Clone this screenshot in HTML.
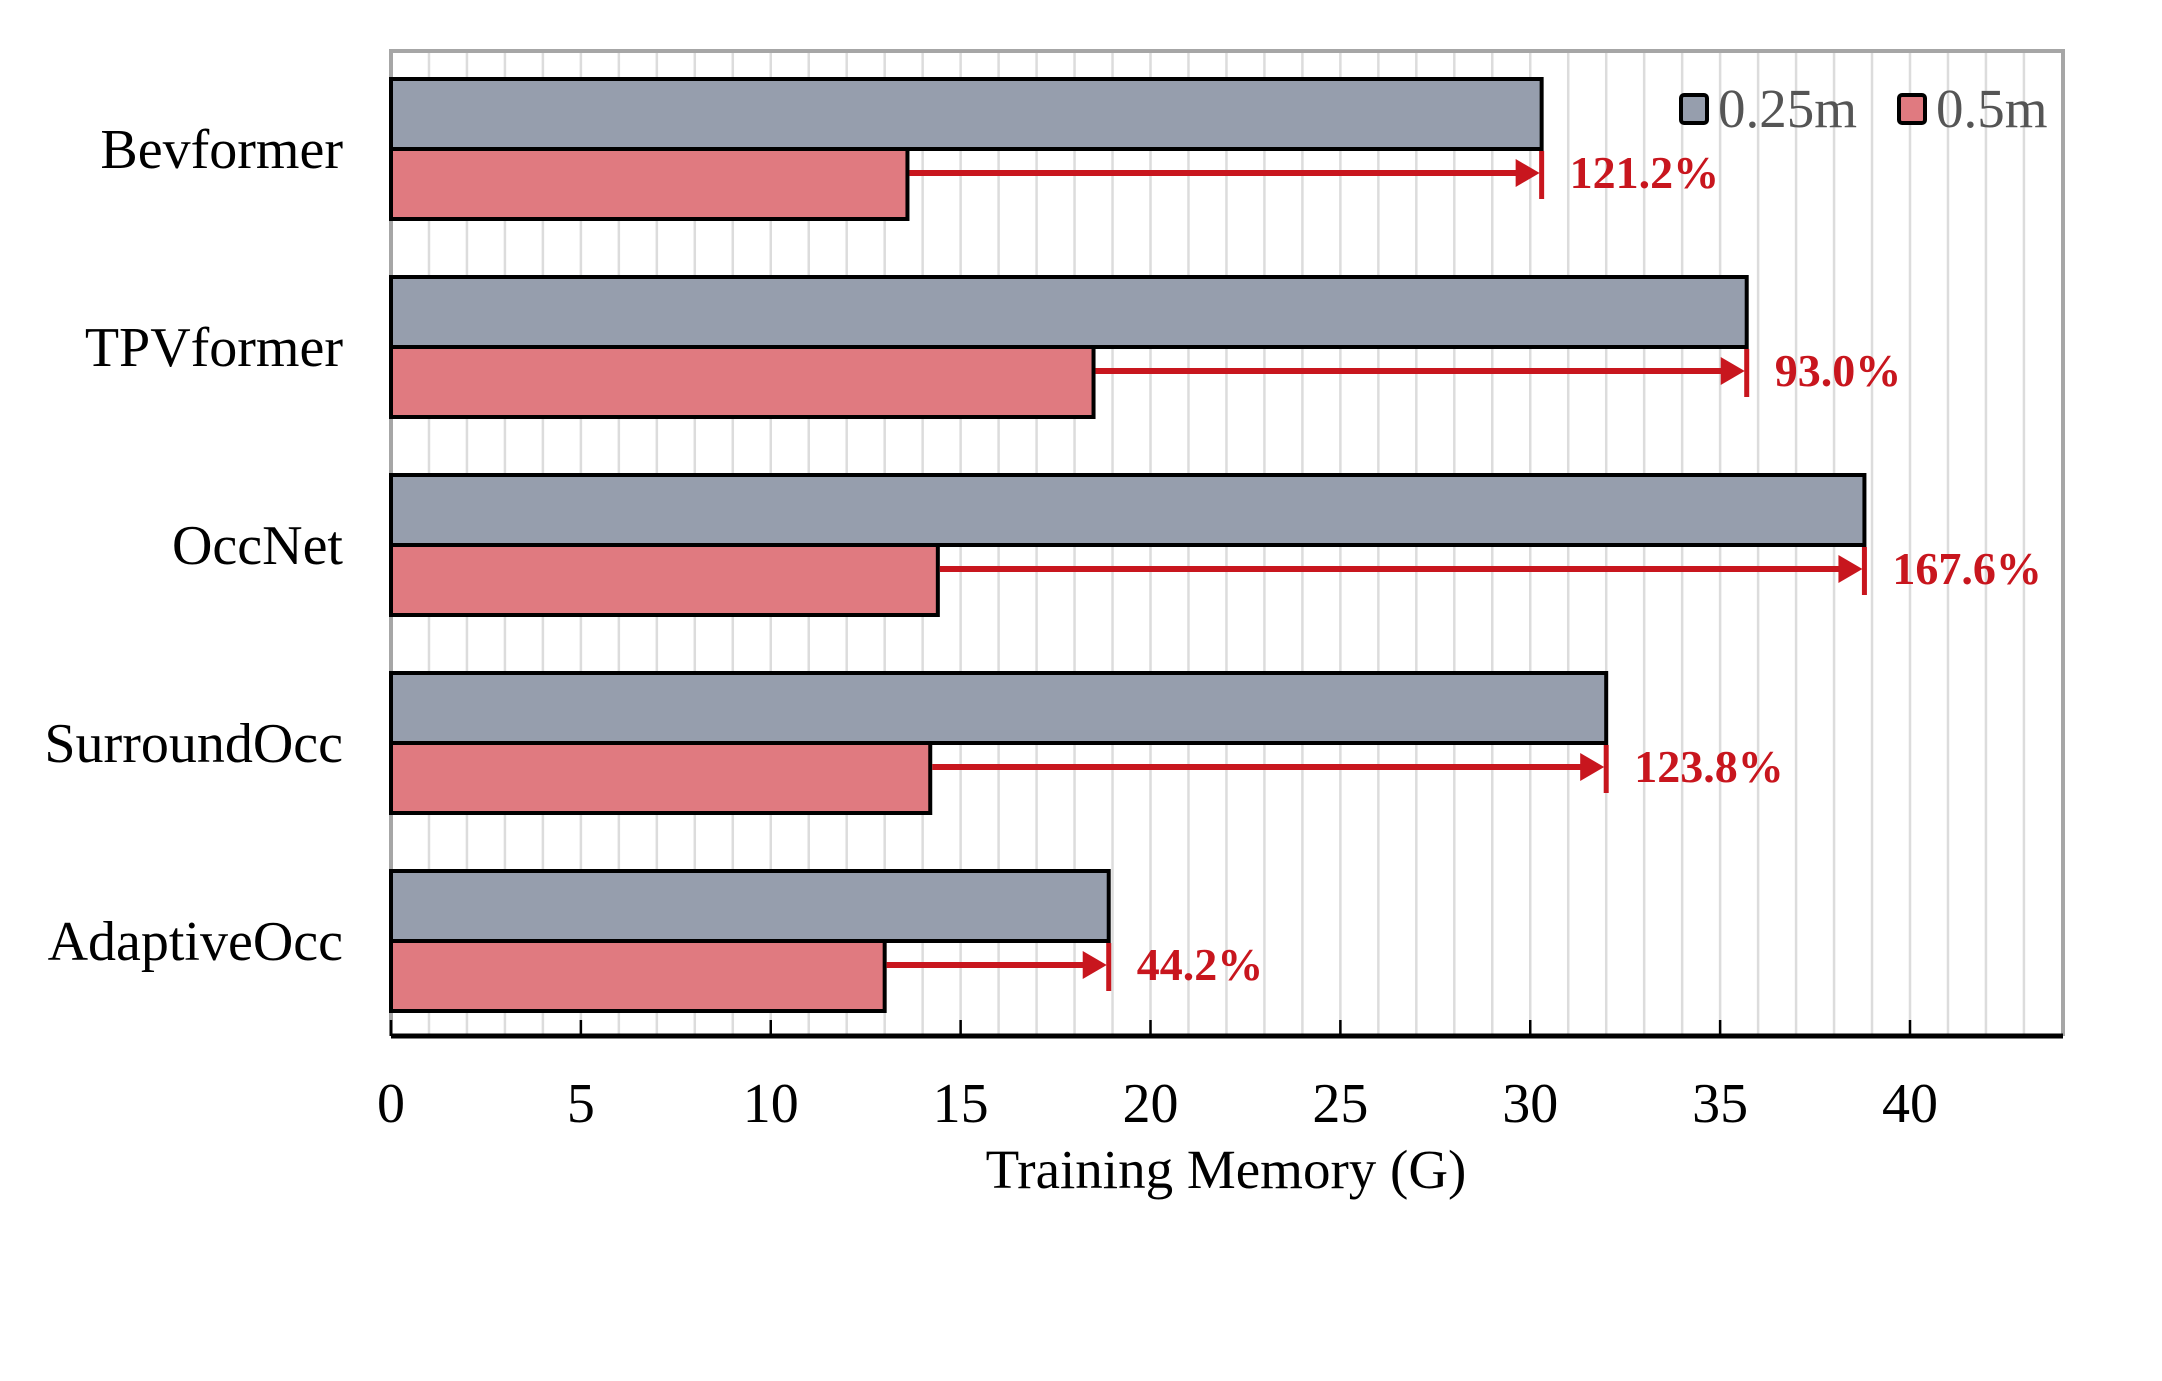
<!DOCTYPE html>
<html><head><meta charset="utf-8"><style>
html,body{margin:0;padding:0;background:#fff;}
svg{display:block;font-family:"Liberation Serif",serif;}
</style></head><body>
<svg id="chart" width="2162" height="1381" viewBox="0 0 2162 1381" xmlns="http://www.w3.org/2000/svg"></svg>
<script>
const categories = ["Bevformer","TPVformer","OccNet","SurroundOcc","AdaptiveOcc"];
const mem025 = [30.3, 35.7, 38.8, 32.0, 18.9];
const mem05 = [13.6, 18.5, 14.4, 14.2, 13.0];
const pctLabels = ["121.2%","93.0%","167.6%","123.8%","44.2%"];
const xTicks = [0,5,10,15,20,25,30,35,40];

const NS = "http://www.w3.org/2000/svg";
const svg = document.getElementById('chart');
const L = 391, R = 2063, T = 51, B = 1036;
const unit = (1910 - 391) / 40;
const x = v => L + v * unit;
const groupTop = i => 79 + i * 198;
const barH = 70;
function mk(tag, attrs, parent) {
  const e = document.createElementNS(NS, tag);
  for (const k in attrs) e.setAttribute(k, attrs[k]);
  (parent || svg).appendChild(e);
  return e;
}
for (let v = 1; x(v) < R - 2; v++) {
  const g = mk('line', {x1: x(v), x2: x(v), y1: T, y2: B, stroke: '#dcdcdc', 'stroke-width': 2.5});
  
  
}
const fr = mk('path', {d: `M${L},${B} L${L},${T} L${R},${T} L${R},${B}`, fill: 'none', stroke: '#a6a6a6', 'stroke-width': 4});


categories.forEach((c, i) => {
  const top = groupTop(i);
  const b1 = mk('rect', {x: L, y: top, width: x(mem025[i]) - L, height: barH, fill: '#969ead', stroke: '#000', 'stroke-width': 4});
  
  
  const b2 = mk('rect', {x: L, y: top + barH, width: x(mem05[i]) - L, height: barH, fill: '#e07a80', stroke: '#000', 'stroke-width': 4});
  
  
  const lbl = mk('text', {x: 343, y: top + barH + 19, 'text-anchor': 'end', 'font-size': 56, fill: '#000'});
  lbl.textContent = c;
  
  
  const ay = top + barH + 24;
  const x0 = x(mem05[i]) + 2, x1 = x(mem025[i]);
  const ln = mk('line', {x1: x0, x2: x1 - 22, y1: ay, y2: ay, stroke: '#c8161e', 'stroke-width': 6});
  
  
  const hd = mk('polygon', {points: `${x1-2},${ay} ${x1-26},${ay-14} ${x1-26},${ay+14}`, fill: '#c8161e'});
  
  
  const tk = mk('line', {x1: x1, x2: x1, y1: top + barH + 2, y2: top + barH + 50, stroke: '#c8161e', 'stroke-width': 5});
  
  
  const pt = mk('text', {x: x1 + 28, y: ay + 15, 'font-size': 46, 'font-weight': 'bold', fill: '#c8161e'});
  pt.textContent = pctLabels[i];
  
  
});
const ax = mk('line', {x1: L, x2: R, y1: B, y2: B, stroke: '#000', 'stroke-width': 5});


xTicks.forEach(v => {
  const t = mk('line', {x1: x(v), x2: x(v), y1: B - 16, y2: B, stroke: '#000', 'stroke-width': 2.5});
  
  
  const tl = mk('text', {x: x(v), y: 1122, 'text-anchor': 'middle', 'font-size': 56, fill: '#000'});
  tl.textContent = v;
  
  
});
const at = mk('text', {x: 1226, y: 1188, 'text-anchor': 'middle', 'font-size': 55, fill: '#000'});
at.textContent = 'Training Memory (G)';


const lg = mk('g', {});


const leg = [["0.25m", '#969ead', 1681], ["0.5m", '#e07a80', 1899]];
leg.forEach(([n, col, lx]) => {
  const s = mk('rect', {x: lx, y: 95, width: 26, height: 28, fill: col, stroke: '#000', 'stroke-width': 4, rx: 3}, lg);
  
  
  const t = mk('text', {x: lx + 37, y: 127, 'font-size': 55, fill: '#555'}, lg);
  t.textContent = n;
  
  
});
</script>
</body></html>
